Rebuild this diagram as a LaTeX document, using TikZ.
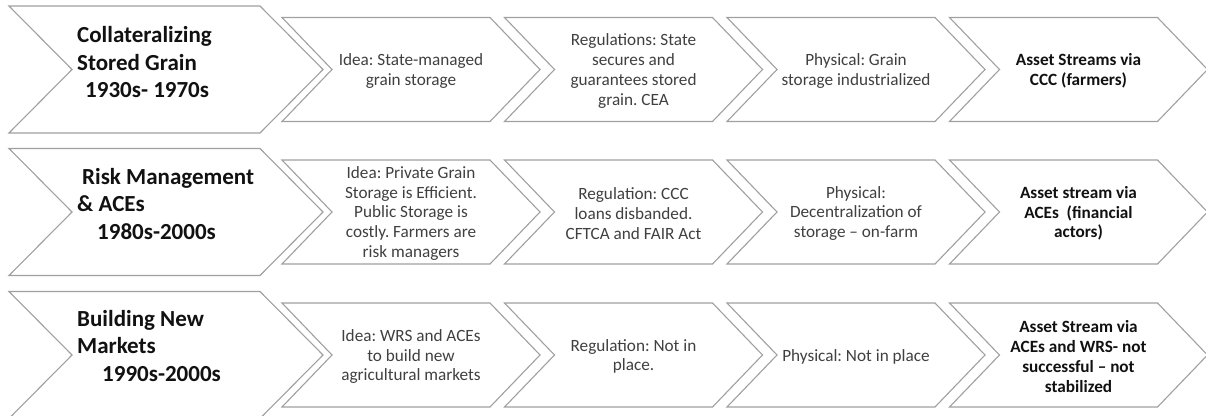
\documentclass[tikz,border=0pt]{standalone}
\usepackage{fontspec}
\setmainfont{Carlito}
\frenchspacing
\definecolor{edge}{HTML}{A0A0A0}
\definecolor{body}{HTML}{404040}
\definecolor{head}{HTML}{111111}
\tikzset{
  chev/.style={draw=edge, line width=1.1pt, fill=white, line join=miter},
  steptext/.style={align=center, text=body, inner sep=0pt,
    font=\fontsize{17.2}{19.75}\selectfont},
  assettext/.style={steptext, text=head,
    font=\fontsize{17.2}{19.75}\selectfont\bfseries},
  eratext/.style={align=left, text=head, inner sep=0pt, anchor=base west,
    font=\fontsize{23}{27.5}\selectfont\bfseries},
}
% chevron: left x, centre y, body width, point depth, half height
\newcommand\chevshape[5]{%
  \draw[chev] (#1,#2-#5) -- ++(#3,0) -- ++(#4,#5) -- ++(-#4,#5)
    -- ++(-#3,0) -- ++(#4,-#5) -- cycle;}
\begin{document}
\begin{tikzpicture}[x=1pt,y=-1pt]
\useasboundingbox (0,0) rectangle (1206,415);
\clip (0,0) rectangle (1206,415);
\fill[white] (0,0) rectangle (1206,415);

% three rows of chevrons
\foreach \cy in {69.5,212,355}{
  \chevshape{9}{\cy}{251}{63}{63.5}
  \foreach \lx in {282,504.5,727,949.5}{
    \chevshape{\lx}{\cy}{208}{50}{52}
  }
}

% row 1
\node[eratext] (era1) at (77,97.5) {Collateralizing\\Stored Grain\\\hspace*{8pt}1930s- 1970s};
\node[steptext] (idea1) at (411,71) {Idea: State-managed\\grain storage};
\node[steptext] (reg1) at (633.5,71) {Regulations: State\\secures and\\guarantees stored\\grain. CEA};
\node[steptext] (phys1) at (856,71) {Physical: Grain\\storage industrialized};
\node[assettext] (asset1) at (1078.5,71) {Asset Streams via\\CCC (farmers)};

% row 2
\node[eratext] (era2) at (77,239) {\hspace*{5pt}Risk Management\\\& ACEs\\\hspace*{20pt}1980s-2000s};
\node[steptext] (idea2) at (411,213.5) {Idea: Private Grain\\Storage is Efficient.\\Public Storage is\\costly. Farmers are\\risk managers};
\node[steptext] (reg2) at (633.5,213.5) {Regulation: CCC\\loans disbanded.\\CFTCA and FAIR Act};
\node[steptext] (phys2) at (856,213.5) {Physical:\\Decentralization of\\storage -- on-farm};
\node[assettext] (asset2) at (1078.5,213.5) {Asset stream via\\ACEs\ \ (financial\\actors)};

% row 3
\node[eratext] (era3) at (77,381) {Building New\\Markets\\\hspace*{25pt}1990s-2000s};
\node[steptext] (idea3) at (411,356.5) {Idea: WRS and ACEs\\to build new\\agricultural markets};
\node[steptext] (reg3) at (633.5,356.5) {Regulation: Not in\\place.};
\node[steptext] (phys3) at (856,356.5) {Physical: Not in place};
\node[assettext] (asset3) at (1078.5,356.5) {Asset Stream via\\ACEs and WRS- not\\successful -- not\\stabilized};
\end{tikzpicture}
\end{document}
